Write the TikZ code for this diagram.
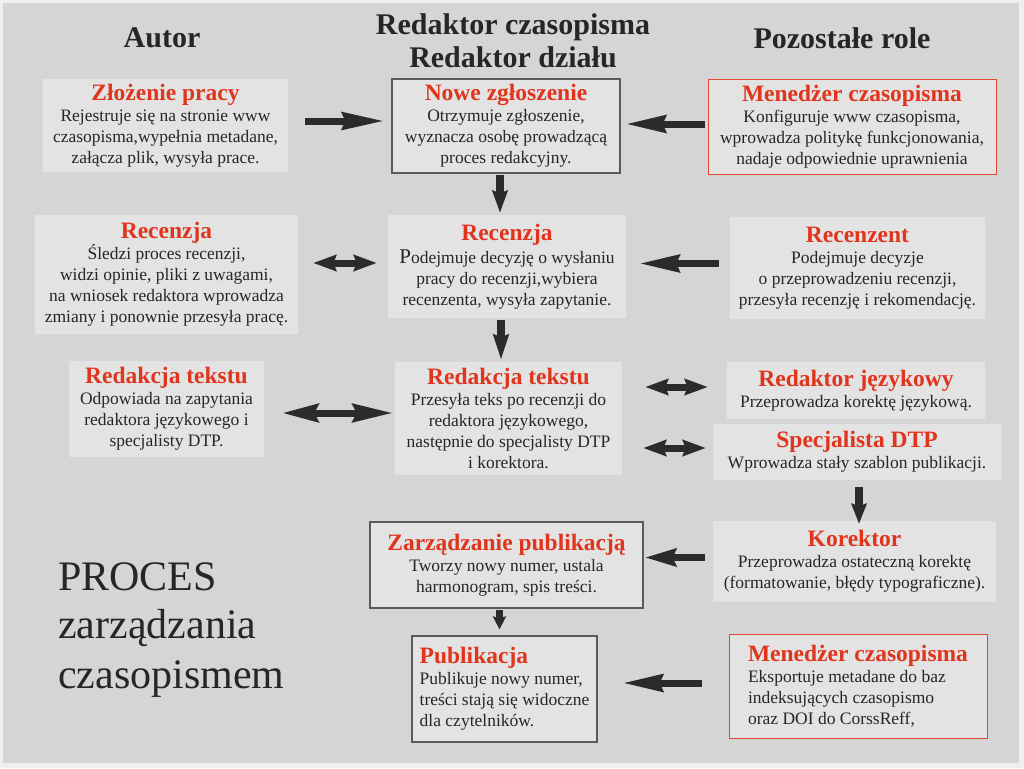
\documentclass[tikz,border=0pt]{standalone}
\usepackage{fontspec}
\setmainfont{Liberation Serif}
\usetikzlibrary{arrows.meta}
\definecolor{bg}{HTML}{D5D5D5}
\definecolor{outer}{HTML}{EFEFEF}
\definecolor{boxfill}{HTML}{E3E3E3}
\definecolor{ttlc}{HTML}{E0341C}
\definecolor{txt}{HTML}{262626}
\definecolor{arrc}{HTML}{2B2B2B}
\definecolor{dkborder}{HTML}{5A5A5A}
\definecolor{rdborder}{HTML}{E04A35}
\newcommand{\ttl}[1]{{\fontsize{23.5}{26}\selectfont\bfseries\color{ttlc}#1}}
\begin{document}
\begin{tikzpicture}[x=1pt,y=-1pt,
  box/.style={fill=boxfill, draw=none, inner sep=0pt, align=center, text=txt, font=\fontsize{17.5}{21}\selectfont},
  dkbox/.style={box, draw=dkborder, line width=1.2pt},
  rdbox/.style={box, draw=rdborder, line width=1pt},
  wh/.style 2 args={minimum width=#1, minimum height=#2},
  head/.style={text=txt, font=\fontsize{30}{33}\selectfont\bfseries, align=center, inner sep=0pt},
  big/.style={text=txt, font=\fontsize{42}{49}\selectfont, anchor=base west, inner sep=0pt},
  arr/.style={draw=arrc, line width=7pt},
  sa/.style={arr, -{Stealth[length=#1,width=17pt,inset=3pt]}},
  va/.style={arr, line width=8pt, -{Stealth[length=#1,width=15pt,inset=2.5pt]}},
  da/.style={arr, {Stealth[length=#1,width=16pt,inset=3pt]}-{Stealth[length=#1,width=16pt,inset=3pt]}},
]
\useasboundingbox (0,0) rectangle (1024,768);
\fill[outer] (0,0) rectangle (1024,768);
\fill[bg] (3,3) rectangle (1019,763);

% headers
\node[head] (hA) at (162,38) {Autor};
\node[head] (hR) at (513,41) {Redaktor czasopisma\\Redaktor działu};
\node[head] (hP) at (842,38) {Pozostałe role};

% boxes
\node[box, wh={245pt}{93pt}] (za) at (165.5,125.5)
  {\ttl{Złożenie pracy}\\Rejestruje się na stronie www\\czasopisma,wypełnia metadane,\\załącza plik, wysyła prace.};
\node[dkbox, wh={228pt}{94pt}] (nz) at (506,126)
  {\ttl{Nowe zgłoszenie}\\Otrzymuje zgłoszenie,\\wyznacza osobę prowadzącą\\proces redakcyjny.};
\node[rdbox, wh={288pt}{95pt}] (mc1) at (852,126.5)
  {\ttl{Menedżer czasopisma}\\Konfiguruje www czasopisma,\\wprowadza politykę funkcjonowania,\\nadaje odpowiednie uprawnienia};
\node[box, wh={263pt}{119pt}] (rl) at (166.5,274.5)
  {\ttl{Recenzja}\\Śledzi proces recenzji,\\widzi opinie, pliki z uwagami,\\na wniosek redaktora wprowadza\\zmiany i ponownie przesyła pracę.};
\node[box, wh={238pt}{103pt}] (rc) at (507,266.5)
  {\ttl{Recenzja}\\[2pt]{\fontsize{21}{21}\selectfont P}odejmuje decyzję o wysłaniu\\pracy do recenzji,wybiera\\recenzenta, wysyła zapytanie.};
\node[box, wh={255pt}{102pt}] (rn) at (857.5,268)
  {\ttl{Recenzent}\\Podejmuje decyzje\\o przeprowadzeniu recenzji,\\przesyła recenzję i rekomendację.};
\node[box, wh={195pt}{96pt}] (tl) at (166.5,409)
  {\ttl{Redakcja tekstu}\\Odpowiada na zapytania\\redaktora językowego i\\specjalisty DTP.};
\node[box, wh={227pt}{113pt}] (tc) at (508.5,418.5)
  {\ttl{Redakcja tekstu}\\Przesyła teks po recenzji do\\redaktora językowego,\\następnie do specjalisty DTP\\i korektora.};
\node[box, wh={258pt}{57pt}] (rj) at (856,390.5)
  {\ttl{Redaktor językowy}\\Przeprowadza korektę językową.};
\node[box, wh={288pt}{56pt}] (dtp) at (857,452)
  {\ttl{Specjalista DTP}\\Wprowadza stały szablon publikacji.};
\node[box, wh={283pt}{81pt}] (kor) at (854.5,561.5)
  {\ttl{Korektor}\\Przeprowadza ostateczną korektę\\(formatowanie, błędy typograficzne).};
\node[dkbox, wh={273pt}{86pt}] (zp) at (506.5,565)
  {\ttl{Zarządzanie publikacją}\\Tworzy nowy numer, ustala\\harmonogram, spis treści.};
\node[dkbox, wh={185pt}{106pt}, align=left] (pub) at (504.5,689)
  {\ttl{Publikacja}\\Publikuje nowy numer,\\treści stają się widoczne\\dla czytelników.};
\node[rdbox, wh={258pt}{104pt}, align=left] (mc2) at (858,686)
  {\ttl{Menedżer czasopisma}\\Eksportuje metadane do baz\\indeksujących czasopismo\\oraz DOI do CorssReff,};

% title
\node[big] (p1) at (58,590) {PROCES};
\node[big] (p2) at (58,638) {zarządzania};
\node[big] (p3) at (58,688) {czasopismem};

% arrows
\draw[sa=42pt, shorten <=17pt, shorten >=7pt] ([yshift=4.5pt]za.east) -- ([yshift=5pt]nz.west);
\draw[sa=40pt, shorten <=3pt, shorten >=5pt] ([yshift=2.5pt]mc1.west) -- ([yshift=2pt]nz.east);
\draw[va=22pt, shorten <=1pt, shorten >=2pt] ([xshift=-6pt]nz.south) -- ([xshift=-7pt]rc.north);
\draw[da=23pt, shorten <=15pt, shorten >=11pt] ([yshift=11.5pt]rl.east) -- ([yshift=3.5pt]rc.west);
\draw[sa=40pt, shorten <=11pt, shorten >=13pt] ([yshift=4.5pt]rn.west) -- ([yshift=3pt]rc.east);
\draw[va=25pt, shorten <=2pt, shorten >=2pt] ([xshift=-6pt]rc.south) -- ([xshift=-7.5pt]tc.north);
\draw[arr, {Stealth[length=36pt,width=18pt,inset=4pt]}-{Stealth[length=40pt,width=18pt,inset=4pt]}, shorten <=18pt, shorten >=2pt] ([yshift=-4pt]tl.east) -- ([yshift=5.5pt]tc.west);
\draw[da=23pt, shorten <=23pt, shorten >=19pt] ([yshift=31.5pt]tc.east) -- ([yshift=3.5pt]rj.west);
\draw[da=23pt, shorten <=21pt, shorten >=7pt] ([yshift=-29.5pt]tc.east) -- ([yshift=4pt]dtp.west);
\draw[va=20pt, shorten <=7pt, shorten >=-3pt] ([xshift=2pt]dtp.south) -- ([xshift=4.5pt]kor.north);
\draw[sa=31pt, shorten <=8pt, shorten >=1pt] ([yshift=4pt]kor.west) -- ([yshift=7.5pt]zp.east);
\draw[arr, line width=7pt, -{Stealth[length=13pt,width=13pt,inset=2pt]}, shorten <=1pt, shorten >=6pt] ([xshift=-7pt]zp.south) -- ([xshift=-5pt]pub.north);
\draw[sa=40pt, shorten <=27pt, shorten >=25pt] ([yshift=3pt]mc2.west) -- ([yshift=6pt]pub.east);
\end{tikzpicture}
\end{document}
